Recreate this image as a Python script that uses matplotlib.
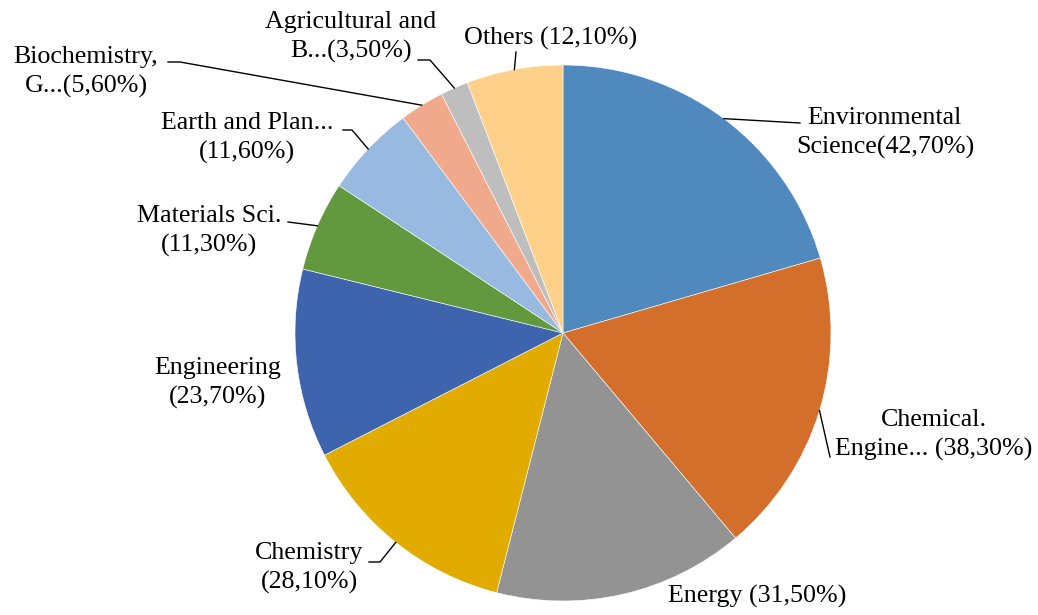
import matplotlib.pyplot as plt
import numpy as np

# share of publications per subject area (%), clockwise from the top
categories = ["Environmental\nScience", "Chemical.\nEngine...", "Energy", "Chemistry",
              "Engineering", "Materials Sci.", "Earth and Plan...", "Biochemistry,\nG...",
              "Agricultural and\nB...", "Others"]
shares = [42.7, 38.3, 31.5, 28.1, 23.7, 11.3, 11.6, 5.6, 3.5, 12.1]
colors = ["#4F89BD", "#D46F2B", "#939393", "#E2AB00", "#3D64AD",
          "#62993E", "#98B9E0", "#F0A98B", "#BEBEBE", "#FFD08A"]

W, H = 1038, 615


def px(x, y):
    # image-style pixel coords (y down) -> axes data coords
    return x, H - y


def fmt(v):
    return f"{v:.2f}".replace(".", ",") + "%"


labels = [
    "Environmental\nScience(" + fmt(shares[0]) + ")",
    "Chemical.\nEngine... (" + fmt(shares[1]) + ")",
    "Energy (" + fmt(shares[2]) + ")",
    "Chemistry\n(" + fmt(shares[3]) + ")",
    "Engineering\n(" + fmt(shares[4]) + ")",
    "Materials Sci.\n(" + fmt(shares[5]) + ")",
    "Earth and Plan...\n(" + fmt(shares[6]) + ")",
    "Biochemistry,\nG...(" + fmt(shares[7]) + ")",
    "Agricultural and\nB...(" + fmt(shares[8]) + ")",
    "Others (" + fmt(shares[9]) + ")",
]

# label centre and leader line path (from the label side towards the slice)
label_pos = [(885, 133), (934, 435), (757, 596), (309, 568), (218, 383),
             (209, 231), (247, 138), (86, 72), (351, 37), (551, 38)]
leaders = [[(800, 123)], [(830, 457)], None, [(369, 562), (380, 562)], None,
           [(288, 222)], [(343, 130), (352, 130)], [(168, 62), (180, 62)],
           [(418, 60), (430, 60)], [(516, 52)]]

plt.rcParams['font.family'] = ['Liberation Serif', 'DejaVu Serif']

fig = plt.figure(figsize=(W / 100, H / 100), dpi=100)
ax = fig.add_axes([0, 0, 1, 1])

cx, cy = px(563, 333)
radius = 268
wedges, _ = ax.pie(shares, colors=colors, startangle=90, counterclock=False,
                   center=(cx, cy), radius=radius, frame=True,
                   wedgeprops=dict(edgecolor='white', linewidth=0.4))
ax.set_xlim(0, W)
ax.set_ylim(0, H)
ax.set_aspect('equal')
ax.axis('off')

for w, lab, pos, path in zip(wedges, labels, label_pos, leaders):
    ax.text(*px(*pos), lab, ha='center', va='center', multialignment='center',
            fontsize=18.7, color='black', linespacing=1.42)
    if path is None:
        continue
    mid = np.deg2rad((w.theta1 + w.theta2) / 2)
    edge = (cx + radius * np.cos(mid), cy + radius * np.sin(mid))
    pts = [px(*p) for p in path] + [edge]
    xs, ys = zip(*pts)
    ax.plot(xs, ys, color='black', linewidth=1.0)

fig.savefig("out.png", dpi=100, facecolor='white')
